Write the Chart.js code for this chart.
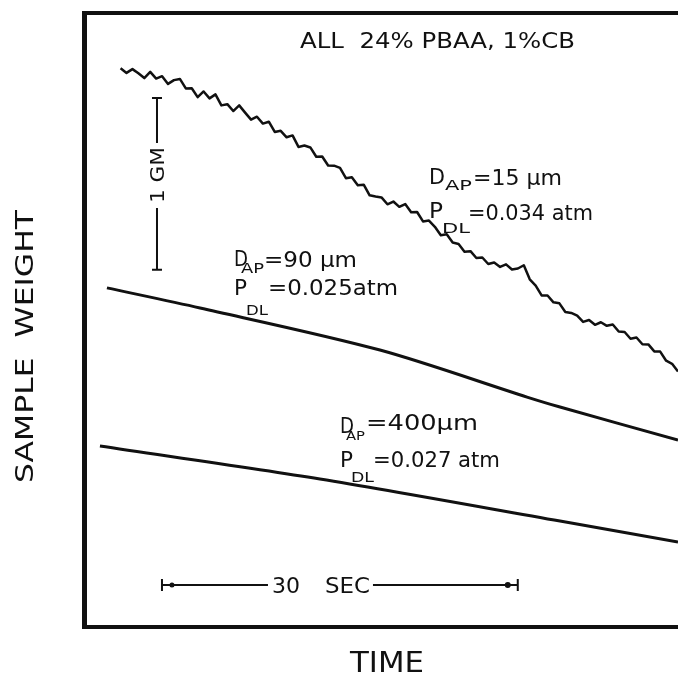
<!DOCTYPE html>
<html>
<head>
<meta charset="utf-8">
<script src="https://cdn.jsdelivr.net/npm/chart.js@4.4.1/dist/chart.umd.min.js"></script>
<style>
  html, body { margin: 0; padding: 0; background: #fff; }
  canvas { display: block; }
</style>
</head>
<body>
<canvas id="weightChart" width="678" height="675"></canvas>
<script>
// time in seconds, weight in grams (offset)
const time15 = [3, 3.5, 4, 4.5, 5, 5.5, 6, 6.5, 7, 7.5, 8, 8.5, 9, 9.5, 10, 10.5, 11, 11.5, 12, 12.5,
  13, 13.5, 14, 14.5, 15, 15.5, 16, 16.5, 17, 17.5, 18, 18.5, 19, 19.5, 20, 20.5, 21, 21.5, 22, 22.5,
  23, 23.5, 24, 24.5, 25, 25.5, 26, 26.5, 27, 27.5, 28, 28.5, 29, 29.5, 30, 30.5, 31, 31.5, 32, 32.5,
  33, 33.5, 34, 34.5, 35, 35.5, 36, 36.5, 37, 37.5, 38, 38.5, 39, 39.5, 40, 40.5, 41, 41.5, 42, 42.5,
  43, 43.5, 44, 44.5, 45, 45.5, 46, 46.5, 47, 47.5, 48, 48.5, 49, 49.5, 50];
const weight15 = [3.254, 3.227, 3.249, 3.225, 3.197, 3.233, 3.194, 3.208, 3.163, 3.185, 3.192, 3.137, 3.138, 3.086, 3.119, 3.079, 3.102, 3.038, 3.045, 3.005,
  3.038, 2.996, 2.955, 2.972, 2.932, 2.943, 2.883, 2.890, 2.852, 2.863, 2.796, 2.804, 2.793, 2.739, 2.740, 2.688, 2.687, 2.674, 2.614, 2.619,
  2.573, 2.576, 2.514, 2.507, 2.502, 2.462, 2.478, 2.447, 2.463, 2.416, 2.417, 2.362, 2.367, 2.331, 2.282, 2.287, 2.239, 2.231, 2.185, 2.189,
  2.149, 2.152, 2.114, 2.123, 2.097, 2.112, 2.082, 2.088, 2.107, 2.025, 1.988, 1.931, 1.931, 1.891, 1.885, 1.835, 1.829, 1.813, 1.777, 1.788,
  1.760, 1.775, 1.754, 1.762, 1.721, 1.718, 1.679, 1.686, 1.647, 1.646, 1.605, 1.604, 1.551, 1.533, 1.488];

const time90 = [1.85, 9.70, 24.87, 37.27, 40.05, 50];
const weight90 = [1.975, 1.858, 1.613, 1.339, 1.281, 1.089];

const time400 = [1.26, 19.81, 40.05, 50];
const weight400 = [1.054, 0.862, 0.617, 0.495];

// scale bars: 1 gram and 30 seconds
const gramBar = { x: 6.07, from: 2.081, to: 3.081 };
const secBar = { y: 0.245, from: 6.49, to: 36.49 };

const FONT = '"DejaVu Sans", sans-serif';

function toPoints(xs, ys) {
  return xs.map((x, i) => ({ x: x, y: ys[i] }));
}

// draws text squeezed or stretched to a given width
function fitText(ctx, text, x, y, size, width) {
  ctx.save();
  ctx.font = size + 'px ' + FONT;
  let w = ctx.measureText(text).width;
  ctx.translate(x, y);
  ctx.scale(width / w, 1);
  ctx.fillText(text, 0, 0);
  ctx.restore();
}

const labels = [
  ['ALL  24% PBAA, 1%CB', 300, 48, 22, 275],
  ['D', 429, 184, 22, 16], ['AP', 445, 190, 14, 27], ['=15 \u03bcm', 473, 185, 21, 89],
  ['P', 429, 218, 21, 14], ['DL', 442, 233, 14, 28], ['=0.034 atm', 468, 220, 21, 125],
  ['D', 234, 266, 21, 14], ['AP', 241, 273, 14, 23], ['=90 \u03bcm', 264, 267, 21, 93],
  ['P', 234, 295, 21, 13], ['DL', 246, 315, 14, 22], ['=0.025atm', 268, 295, 21, 130],
  ['D', 340, 433, 21, 14], ['AP', 346, 440, 13, 19], ['=400\u03bcm', 366, 430, 21, 112],
  ['P', 340, 467, 21, 13], ['DL', 351, 482, 14, 23], ['=0.027 atm', 373, 467, 21, 127],
  ['TIME', 350, 672, 28, 74]
];

const decorPlugin = {
  id: 'decor',
  afterDatasetsDraw(chart) {
    const ctx = chart.ctx;
    const a = chart.chartArea;
    const xs = chart.scales.x, ys = chart.scales.y;
    ctx.save();
    ctx.strokeStyle = '#111';
    ctx.fillStyle = '#111';
    ctx.lineCap = 'butt';

    // frame (right side runs off the picture)
    ctx.lineWidth = 5;
    ctx.beginPath();
    ctx.moveTo(a.left - 0.5, a.top - 2);
    ctx.lineTo(a.left - 0.5, a.bottom + 2);
    ctx.stroke();
    ctx.lineWidth = 4;
    ctx.beginPath();
    ctx.moveTo(a.left - 3, a.top);
    ctx.lineTo(chart.width, a.top);
    ctx.moveTo(a.left - 3, a.bottom);
    ctx.lineTo(chart.width, a.bottom);
    ctx.stroke();

    // 1 GM bar
    const gx = xs.getPixelForValue(gramBar.x);
    const gTop = ys.getPixelForValue(gramBar.to);
    const gBot = ys.getPixelForValue(gramBar.from);
    ctx.lineWidth = 2;
    ctx.beginPath();
    ctx.moveTo(gx, gTop); ctx.lineTo(gx, gTop + 45);
    ctx.moveTo(gx, gTop + 110); ctx.lineTo(gx, gBot);
    ctx.moveTo(gx - 5, gTop); ctx.lineTo(gx + 5, gTop);
    ctx.moveTo(gx - 5, gBot); ctx.lineTo(gx + 5, gBot);
    ctx.stroke();
    ctx.save();
    ctx.translate(gx + 7, gTop + 105);
    ctx.rotate(-Math.PI / 2);
    fitText(ctx, '1 GM', 0, 0, 20, 56);
    ctx.restore();

    // 30 SEC bar
    const sy = ys.getPixelForValue(secBar.y);
    const sL = xs.getPixelForValue(secBar.from);
    const sR = xs.getPixelForValue(secBar.to);
    ctx.beginPath();
    ctx.moveTo(sL, sy); ctx.lineTo(sL + 106, sy);
    ctx.moveTo(sL + 211, sy); ctx.lineTo(sR, sy);
    ctx.moveTo(sL, sy - 6); ctx.lineTo(sL, sy + 6);
    ctx.moveTo(sR, sy - 6); ctx.lineTo(sR, sy + 6);
    ctx.stroke();
    ctx.beginPath();
    ctx.arc(sL + 10, sy, 2.5, 0, Math.PI * 2);
    ctx.arc(sR - 10, sy, 3, 0, Math.PI * 2);
    ctx.fill();
    fitText(ctx, '30', sL + 110, sy + 8, 22, 28);
    fitText(ctx, 'SEC', sL + 163, sy + 8, 22, 45);

    // text
    labels.forEach(l => fitText(ctx, l[0], l[1], l[2], l[3], l[4]));

    // y axis title
    ctx.save();
    ctx.translate(33, 483);
    ctx.rotate(-Math.PI / 2);
    fitText(ctx, 'SAMPLE  WEIGHT', 0, 0, 25, 273);
    ctx.restore();

    ctx.restore();
  }
};

const lineStyle = {
  borderColor: '#111',
  pointRadius: 0,
  fill: false,
  borderJoinStyle: 'round'
};

new Chart(document.getElementById('weightChart'), {
  type: 'line',
  data: {
    datasets: [
      Object.assign({ label: '15 um', data: toPoints(time15, weight15), borderWidth: 2.5, tension: 0 }, lineStyle),
      Object.assign({ label: '90 um', data: toPoints(time90, weight90), borderWidth: 3, tension: 0.3 }, lineStyle),
      Object.assign({ label: '400 um', data: toPoints(time400, weight400), borderWidth: 3, tension: 0.3 }, lineStyle)
    ]
  },
  options: {
    responsive: false,
    animation: false,
    devicePixelRatio: 1,
    layout: { padding: { left: 85, top: 13, right: 0, bottom: 48 } },
    plugins: {
      legend: { display: false },
      tooltip: { enabled: false }
    },
    scales: {
      x: { type: 'linear', min: 0, max: 50, display: false },
      y: { type: 'linear', min: 0, max: 3.576, display: false }
    }
  },
  plugins: [decorPlugin]
});
</script>
</body>
</html>
